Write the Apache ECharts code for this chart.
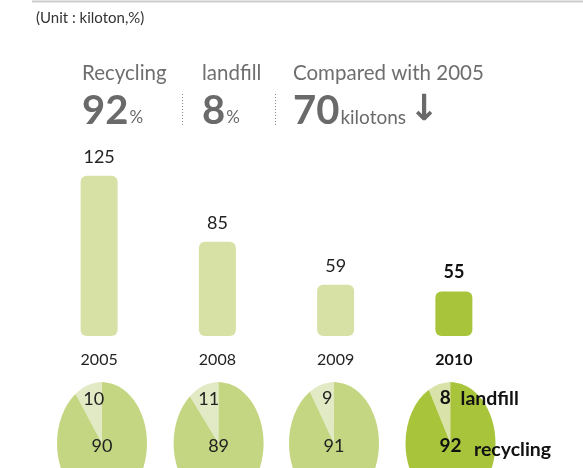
<!DOCTYPE html>
<html><head><meta charset="utf-8">
<script src="https://cdn.jsdelivr.net/npm/echarts@6/dist/echarts.min.js"></script>
<style>
html,body{margin:0;padding:0;background:#fff;overflow:hidden}
#pies{position:absolute;left:0;top:0;width:583px;height:344px;transform:scaleY(1.36);transform-origin:0 0;}
#main{position:absolute;left:0;top:0;width:583px;height:468px;}
</style></head><body>
<div id="pies"></div><div id="main"></div>
<script>
// ---- data ----
const years = ['2005', '2008', '2009', '2010'];
const amounts = [125, 85, 59, 55];
const recyclingShare = [90, 89, 91, 92];
const landfillShare = [10, 11, 9, 8];
const sliceNames = ['recycling', 'landfill'];
const summaryLabels = ['Recycling', 'landfill', 'Compared with 2005'];
const summaryValues = ['92', '8', '70'];
const summaryUnits = ['%', '%', 'kilotons'];
const unitNote = '(Unit : kiloton,%)';

// ---- style ----
const FONT = 'Lato';
const barLight = '#d7e1a5', barDark = '#a8c43b';
const pieMain = '#c5d682', pieSlice = '#e2e9c5';
const pieMainDark = '#a8c43b', pieSliceDark = '#d8e2a9';
const pieX = [102, 218.6, 334, 450.5];
const last = years.length - 1;

// ---- pie shapes (stretched vertically) ----
const pies = echarts.init(document.getElementById('pies'), null, {devicePixelRatio: 2});
pies.setOption({
  animation: false,
  series: years.map((y, i) => ({
    type: 'pie', center: [pieX[i], 326], radius: 45, startAngle: 90, clockwise: true,
    silent: true, label: {show: false}, labelLine: {show: false},
    data: [
      {name: sliceNames[0], value: recyclingShare[i], itemStyle: {color: i === last ? pieMainDark : pieMain}},
      {name: sliceNames[1], value: landfillShare[i], itemStyle: {color: i === last ? pieSliceDark : pieSlice}}
    ]
  }))
});

// ---- main chart ----
const main = echarts.init(document.getElementById('main'));

function pieLabelSeries(i) {
  const isLast = i === last;
  const base = {fontFamily: FONT, fontSize: 18, color: '#222'};
  const recLabel = isLast ? {
    position: 'center',
    formatter: '{sp|}{v|{c}}{g|}{n|{b}}',
    rich: {
      sp: {width: 93}, g: {width: 9},
      v: {fontFamily: FONT, fontSize: 19, fontWeight: 'bold', color: '#111'},
      n: {fontFamily: FONT, fontSize: 19.5, fontWeight: 'bold', color: '#111', width: 84, align: 'left', padding: [8, 0, 0, 0]}
    }
  } : {position: 'center', formatter: '{c}'};
  const lanLabel = isLast ? {
    position: 'inside',
    formatter: '{sp|}{v|{c}}{g|}{n|{b}}',
    rich: {
      sp: {width: 73}, g: {width: 5},
      v: {fontFamily: FONT, fontSize: 19, fontWeight: 'bold', color: '#111'},
      n: {fontFamily: FONT, fontSize: 19.5, fontWeight: 'bold', color: '#111', width: 68, align: 'left'}
    }
  } : {position: 'inside', formatter: '{c}'};
  return {
    type: 'pie', center: [pieX[i], 446], radius: 90, startAngle: 82, clockwise: true,
    silent: true, z: 5,
    itemStyle: {color: 'rgba(0,0,0,0)', borderWidth: 0},
    emphasis: {disabled: true},
    labelLine: {show: false},
    label: Object.assign({show: true}, base),
    data: [
      {name: sliceNames[0], value: recyclingShare[i], label: recLabel},
      {name: sliceNames[1], value: landfillShare[i], label: lanLabel}
    ]
  };
}

const headX = [82, 202, 293];
const graphic = [
  {type: 'line', shape: {x1: 32, y1: 1.5, x2: 583, y2: 1.5}, style: {stroke: '#cccccc', lineWidth: 2}},
  {type: 'text', x: 36, y: 18, style: {text: unitNote, font: '15px ' + FONT, fill: '#333', verticalAlign: 'middle'}},
  {type: 'line', shape: {x1: 182.5, y1: 94, x2: 182.5, y2: 127}, style: {stroke: '#888', lineWidth: 1, lineDash: [1, 2]}},
  {type: 'line', shape: {x1: 275.5, y1: 94, x2: 275.5, y2: 127}, style: {stroke: '#888', lineWidth: 1, lineDash: [1, 2]}}
];
summaryLabels.forEach((t, i) => {
  graphic.push({type: 'text', x: headX[i], y: 73, style: {text: t, font: '20.5px ' + FONT, fill: '#6e6e6e', verticalAlign: 'middle'}});
});
const bigFont = 'bold 40px ' + FONT;
const ctx = document.createElement('canvas').getContext('2d');
summaryValues.forEach((t, i) => {
  ctx.font = bigFont;
  const w = ctx.measureText(t).width;
  graphic.push({type: 'text', x: headX[i], y: 111, style: {text: t, font: bigFont, fill: '#6a6a6a', verticalAlign: 'middle'}});
  const small = i === 2 ? '19px ' + FONT : '17px ' + FONT;
  graphic.push({type: 'text', x: headX[i] + w + 1, y: 117.5, style: {text: summaryUnits[i], font: small, fill: '#6a6a6a', verticalAlign: 'middle'}});
  if (i === 2) {
    ctx.font = small;
    const w2 = ctx.measureText(summaryUnits[i]).width;
    graphic.push({type: 'text', x: headX[i] + w + 1 + w2 + 3, y: 111, style: {text: '\u2193', font: 'bold 36px "DejaVu Sans"', fill: '#6a6a6a', verticalAlign: 'middle'}});
  }
});

main.setOption({
  animation: false,
  grid: {left: 40, right: 70, top: 151, bottom: 132},
  xAxis: {
    type: 'category',
    data: years.map((y, i) => i === last ? {value: y, textStyle: {fontWeight: 'bold', color: '#111'}} : y),
    axisLine: {show: false}, axisTick: {show: false},
    axisLabel: {margin: 16, fontSize: 16, color: '#222', fontFamily: FONT}
  },
  yAxis: {type: 'value', min: 28, max: 140, startValue: 28, show: false},
  series: [
    {
      type: 'bar', barWidth: 37, silent: true,
      label: {show: true, position: 'top', distance: 10, fontSize: 18, color: '#222', fontFamily: FONT},
      data: amounts.map((v, i) => ({
        value: v,
        itemStyle: {color: i === last ? barDark : barLight, borderRadius: 6},
        label: i === last ? {fontWeight: 'bold', color: '#111'} : {}
      }))
    }
  ].concat(years.map((y, i) => pieLabelSeries(i))),
  graphic: graphic
});
</script>
</body></html>
